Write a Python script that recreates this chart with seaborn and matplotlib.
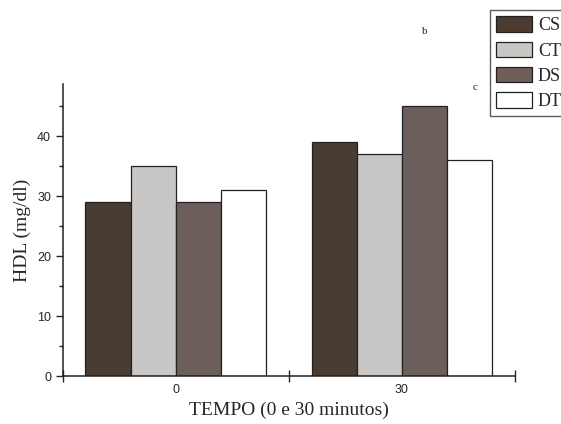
import pandas as pd
import matplotlib
matplotlib.use('Agg')
import matplotlib.pyplot as plt
import seaborn as sns
from matplotlib.ticker import MultipleLocator
from matplotlib.patches import Patch

# Dados (HDL mg/dl por grupo e tempo)
TEMPOS = ['0', '30']
GRUPOS = ['CS', 'CT', 'DS', 'DT']
CS = [29, 39]
CT = [35, 37]
DS = [29, 45]
DT = [31, 36]
CORES = ['#4b3b30', '#c9c7c4', '#6f5d58', '#ffffff']

rows = []
for g, vals in zip(GRUPOS, [CS, CT, DS, DT]):
    for t, v in zip(TEMPOS, vals):
        rows.append({'tempo': t, 'grupo': g, 'hdl': v})
df = pd.DataFrame(rows)

sns.set_style('ticks')
plt.rcParams['font.family'] = ['Liberation Sans', 'DejaVu Sans']

fig = plt.figure(figsize=(5.61, 4.24), dpi=100)
ax = fig.add_axes([0.112, 0.113, 0.806, 0.689])

sns.barplot(data=df, x='tempo', y='hdl', hue='grupo', order=TEMPOS,
            hue_order=GRUPOS, palette=CORES, width=0.8,
            edgecolor='#222222', linewidth=0.9, ax=ax, legend=False)

ax.set_xlim(-0.5, 1.5)
ax.set_ylim(0, 48.7)
ax.yaxis.set_major_locator(MultipleLocator(10))
ax.yaxis.set_minor_locator(MultipleLocator(5))
ax.set_xticks([-0.5, 0, 0.5, 1, 1.5])
ax.set_xticklabels(['', '0', '', '30', ''])
ax.tick_params(axis='x', direction='inout', length=8, width=1, labelsize=9, pad=2)
ax.tick_params(axis='y', direction='out', length=5, width=1, labelsize=9)
ax.tick_params(axis='y', which='minor', length=3, width=1)
# sem tracinho nas posicoes dos rotulos 0 e 30
for i, tk in enumerate(ax.xaxis.get_major_ticks()):
    if i in (1, 3):
        tk.tick1line.set_visible(False)
        tk.tick2line.set_visible(False)

sns.despine(ax=ax)
for s in ['left', 'bottom']:
    ax.spines[s].set_linewidth(1.1)
    ax.spines[s].set_color('#222222')

ax.set_xlabel('TEMPO (0 e 30 minutos)', family='Liberation Serif', fontsize=14)
ax.set_ylabel('HDL (mg/dl)', family='Liberation Serif', fontsize=14)

# Legenda (cortada na borda direita como no original)
handles = [Patch(facecolor=c, edgecolor='#222222', linewidth=0.9) for c in CORES]
leg = fig.legend(handles, GRUPOS, loc='upper left', bbox_to_anchor=(490 / 561, 1 - 10 / 424),
                 prop={'family': 'Liberation Serif', 'size': 13},
                 handlelength=2.0, handleheight=0.95, labelspacing=0.4,
                 frameon=True, fancybox=False, edgecolor='#333333',
                 borderpad=0.35, borderaxespad=0, handletextpad=0.3)
leg.get_frame().set_linewidth(1.0)

fig.text(425 / 561, 1 - 32 / 424, 'b', family='Liberation Serif', fontsize=8, ha='center', va='center')
fig.text(475 / 561, 1 - 88 / 424, 'c', family='Liberation Serif', fontsize=8, ha='center', va='center')

fig.savefig('out.png', dpi=100)
